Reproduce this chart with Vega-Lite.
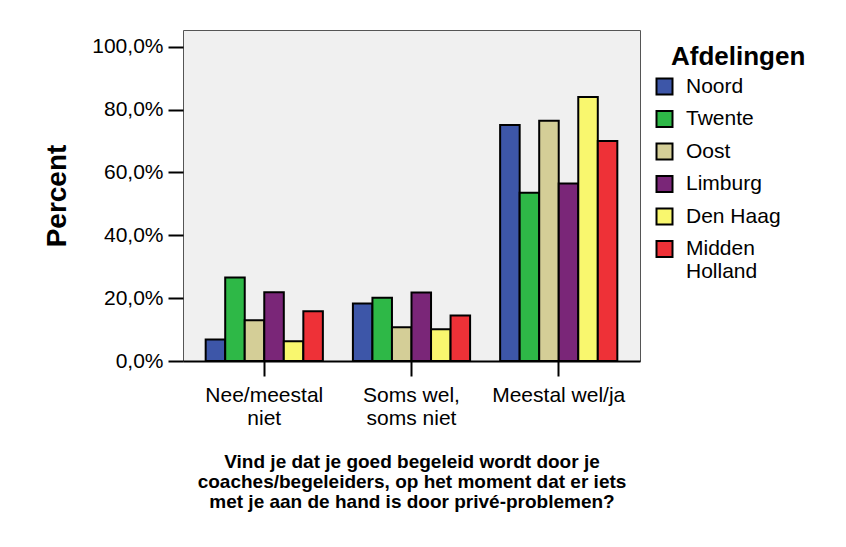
{
  "$schema": "https://vega.github.io/schema/vega-lite/v6.json",
  "autosize": {"type": "none"},
  "width": 457,
  "height": 331,
  "padding": {"left": 183, "top": 30, "right": 206, "bottom": 186},
  "background": "white",
  "config": {
    "font": "Liberation Sans",
    "view": {"stroke": "#555555", "strokeWidth": 1, "fill": "#F0F0F0"}
  },
  "data": {
    "values": [
      {"antwoord": "Nee/meestal niet", "afdeling": "Noord", "pct": 6.8},
      {"antwoord": "Nee/meestal niet", "afdeling": "Twente", "pct": 26.6},
      {"antwoord": "Nee/meestal niet", "afdeling": "Oost", "pct": 13.0},
      {"antwoord": "Nee/meestal niet", "afdeling": "Limburg", "pct": 21.9},
      {"antwoord": "Nee/meestal niet", "afdeling": "Den Haag", "pct": 6.3},
      {"antwoord": "Nee/meestal niet", "afdeling": "Midden Holland", "pct": 15.8},
      {"antwoord": "Soms wel, soms niet", "afdeling": "Noord", "pct": 18.3},
      {"antwoord": "Soms wel, soms niet", "afdeling": "Twente", "pct": 20.1},
      {"antwoord": "Soms wel, soms niet", "afdeling": "Oost", "pct": 10.7},
      {"antwoord": "Soms wel, soms niet", "afdeling": "Limburg", "pct": 21.8},
      {"antwoord": "Soms wel, soms niet", "afdeling": "Den Haag", "pct": 10.1},
      {"antwoord": "Soms wel, soms niet", "afdeling": "Midden Holland", "pct": 14.5},
      {"antwoord": "Meestal wel/ja", "afdeling": "Noord", "pct": 75.1},
      {"antwoord": "Meestal wel/ja", "afdeling": "Twente", "pct": 53.5},
      {"antwoord": "Meestal wel/ja", "afdeling": "Oost", "pct": 76.4},
      {"antwoord": "Meestal wel/ja", "afdeling": "Limburg", "pct": 56.5},
      {"antwoord": "Meestal wel/ja", "afdeling": "Den Haag", "pct": 84.0},
      {"antwoord": "Meestal wel/ja", "afdeling": "Midden Holland", "pct": 70.0}
    ]
  },
  "mark": {"type": "bar", "stroke": "black", "strokeWidth": 2, "opacity": 1},
  "encoding": {
    "x": {
      "field": "antwoord",
      "type": "nominal",
      "sort": ["Nee/meestal niet", "Soms wel, soms niet", "Meestal wel/ja"],
      "scale": {"paddingInner": 0.204, "paddingOuter": 0.154},
      "axis": {
        "labelAngle": 0,
        "labelFontSize": 21,
        "labelColor": "black",
        "labelPadding": 8,
        "labelLineHeight": 23.5,
        "labelExpr": "datum.label == 'Nee/meestal niet' ? ['Nee/meestal', 'niet'] : datum.label == 'Soms wel, soms niet' ? ['Soms wel,', 'soms niet'] : datum.label",
        "tickSize": 15,
        "tickWidth": 2,
        "tickColor": "black",
        "domainColor": "black",
        "domainWidth": 2,
        "title": ["Vind je dat je goed begeleid wordt door je", "coaches/begeleiders, op het moment dat er iets", "met je aan de hand is door privé-problemen?"],
        "titleFontSize": 19,
        "titleFontWeight": "bold",
        "titleColor": "black",
        "titleLineHeight": 20,
        "titlePadding": 24
      }
    },
    "xOffset": {
      "field": "afdeling",
      "type": "nominal",
      "sort": ["Noord", "Twente", "Oost", "Limburg", "Den Haag", "Midden Holland"],
      "scale": {"paddingInner": 0, "paddingOuter": 0}
    },
    "y": {
      "field": "pct",
      "type": "quantitative",
      "scale": {"domain": [0, 105.3], "nice": false},
      "axis": {
        "values": [0, 20, 40, 60, 80, 100],
        "labelExpr": "replace(format(datum.value, '.1f'), '.', ',') + '%'",
        "labelFontSize": 21,
        "labelColor": "black",
        "labelPadding": 5,
        "tickSize": 15,
        "tickWidth": 2,
        "tickColor": "black",
        "domain": false,
        "grid": false,
        "title": "Percent",
        "titleFontSize": 28,
        "titleFontWeight": "bold",
        "titleColor": "black",
        "titlePadding": 20
      }
    },
    "color": {
      "field": "afdeling",
      "type": "nominal",
      "sort": ["Noord", "Twente", "Oost", "Limburg", "Den Haag", "Midden Holland"],
      "scale": {
        "domain": ["Noord", "Twente", "Oost", "Limburg", "Den Haag", "Midden Holland"],
        "range": ["#3D56A8", "#2EB847", "#D4CE97", "#7A2678", "#F9F76E", "#EE3137"]
      },
      "legend": {
        "orient": "none",
        "legendX": 488,
        "legendY": 14,
        "padding": 0,
        "title": "Afdelingen",
        "titleFontSize": 26,
        "titleFontWeight": "bold",
        "titleColor": "black",
        "titlePadding": 6,
        "symbolType": "square",
        "symbolSize": 256,
        "symbolStrokeColor": "black",
        "symbolStrokeWidth": 2,
        "symbolOpacity": 1,
        "symbolOffset": -17,
        "labelOffset": 11,
        "labelFontSize": 21,
        "labelColor": "black",
        "labelExpr": "datum.label == 'Midden Holland' ? ['Midden', 'Holland'] : datum.label",
        "rowPadding": 7.5
      }
    }
  }
}
